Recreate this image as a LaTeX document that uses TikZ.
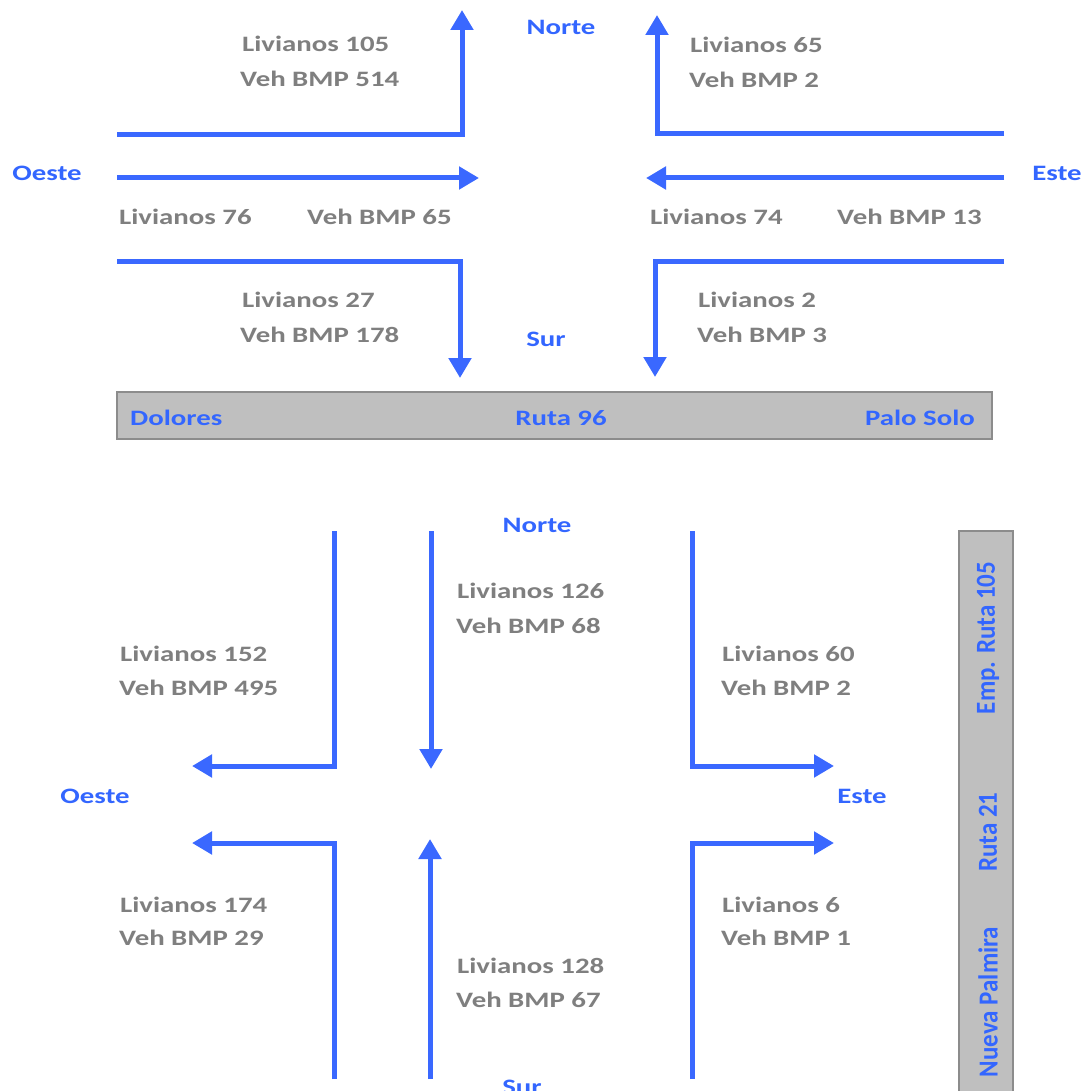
\documentclass[tikz,border=0pt]{standalone}
\usepackage{fontspec}
\usetikzlibrary{arrows.meta}
\newfontfamily\lblfont[FakeStretch=1.31]{Carlito}
\newfontfamily\plainlbl{Carlito}
\definecolor{flowblue}{HTML}{3A68FF}
\definecolor{namblue}{HTML}{3366FF}
\definecolor{cntgrey}{HTML}{7F7F7F}
\definecolor{roadfill}{HTML}{BFBFBF}
\definecolor{roadedge}{HTML}{8C8C8C}
\tikzset{
  flow/.style={draw=flowblue, line width=5pt, line join=miter,
    -{Triangle[length=20pt,width=22pt]}},
  count/.style={font=\lblfont\bfseries\fontsize{22}{26}\selectfont, text=cntgrey,
    anchor=west, inner sep=0pt},
  place/.style={font=\lblfont\bfseries\fontsize{22}{26}\selectfont, text=namblue,
    inner sep=0pt},
  roadbox/.style={draw=roadedge, fill=roadfill, line width=2pt, inner sep=0pt},
  vplace/.style={text=namblue, inner sep=0pt, rotate=90},
}
\newcommand{\vtext}[1]{\scalebox{1}[1.1]{\plainlbl\bfseries\fontsize{25}{29}\selectfont #1}}
\begin{document}
\begin{tikzpicture}[x=1pt,y=-1pt]
\useasboundingbox[fill=white] (0,0) rectangle (1086,1091);

% ---------- upper junction: Ruta 96 ----------
\coordinate (a1) at (117,135); \coordinate (a2) at (462,135); \coordinate (a3) at (462,10);
\coordinate (b1) at (117,178); \coordinate (b2) at (479,178);
\coordinate (c1) at (117,261); \coordinate (c2) at (460,261); \coordinate (c3) at (460,378);
\coordinate (d1) at (1004,134); \coordinate (d2) at (657,134); \coordinate (d3) at (657,15);
\coordinate (e1) at (1004,178); \coordinate (e2) at (646,178);
\coordinate (f1) at (1004,261); \coordinate (f2) at (655,261); \coordinate (f3) at (655,377);

\draw[flow] (a1) -- (a2) -- (a3);
\draw[flow] (b1) -- (b2);
\draw[flow] (c1) -- (c2) -- (c3);
\draw[flow] (d1) -- (d2) -- (d3);
\draw[flow] (e1) -- (e2);
\draw[flow] (f1) -- (f2) -- (f3);

\node[place] (n1) at (561,27) {Norte};
\node[place] (o1) at (47,173) {Oeste};
\node[place] (e1l) at (1057,173) {Este};
\node[place] (s1) at (546,339) {Sur};

\node[count] (t1) at (242,44) {Livianos 105};
\node[count] (t2) at (240,79) {Veh BMP 514};
\node[count] (t3) at (690,45) {Livianos 65};
\node[count] (t4) at (689,80) {Veh BMP 2};
\node[count] (t5) at (119,217) {Livianos 76};
\node[count] (t6) at (307,217) {Veh BMP 65};
\node[count] (t7) at (650,217) {Livianos 74};
\node[count] (t8) at (837,217) {Veh BMP 13};
\node[count] (t9) at (242,300) {Livianos 27};
\node[count] (t10) at (240,335) {Veh BMP 178};
\node[count] (t11) at (698,300) {Livianos 2};
\node[count] (t12) at (697,335) {Veh BMP 3};

\node[roadbox, minimum width=875pt, minimum height=47pt] (r96) at (554.5,415.5) {};
\node[place, anchor=west] (dol) at (130,418) {Dolores};
\node[place] (r96l) at (561,418) {Ruta 96};
\node[place, anchor=east] (pal) at (975,418) {Palo Solo};

% ---------- lower junction: Ruta 21 ----------
\coordinate (g1) at (334,531); \coordinate (g2) at (334,766); \coordinate (g3) at (192,766);
\coordinate (h1) at (431,531); \coordinate (h2) at (431,769);
\coordinate (i1) at (692,531); \coordinate (i2) at (692,766); \coordinate (i3) at (834,766);
\coordinate (j1) at (334,1079); \coordinate (j2) at (334,843); \coordinate (j3) at (192,843);
\coordinate (k1) at (430,1079); \coordinate (k2) at (430,839);
\coordinate (l1) at (692,1079); \coordinate (l2) at (692,843); \coordinate (l3) at (834,843);

\draw[flow] (g1) -- (g2) -- (g3);
\draw[flow] (h1) -- (h2);
\draw[flow] (i1) -- (i2) -- (i3);
\draw[flow] (j1) -- (j2) -- (j3);
\draw[flow] (k1) -- (k2);
\draw[flow] (l1) -- (l2) -- (l3);

\node[place] (n2) at (537,525) {Norte};
\node[place] (o2) at (95,796) {Oeste};
\node[place] (e2l) at (862,796) {Este};
\node[place] (s2) at (522,1087) {Sur};

\node[count] (u1) at (120,654) {Livianos 152};
\node[count] (u2) at (119,688) {Veh BMP 495};
\node[count] (u3) at (457,591) {Livianos 126};
\node[count] (u4) at (456,626) {Veh BMP 68};
\node[count] (u5) at (722,654) {Livianos 60};
\node[count] (u6) at (721,688) {Veh BMP 2};
\node[count] (u7) at (120,905) {Livianos 174};
\node[count] (u8) at (119,938) {Veh BMP 29};
\node[count] (u9) at (722,905) {Livianos 6};
\node[count] (u10) at (721,938) {Veh BMP 1};
\node[count] (u11) at (457,966) {Livianos 128};
\node[count] (u12) at (456,1000) {Veh BMP 67};

\node[roadbox, minimum width=54pt, minimum height=570pt] (r21) at (986,816) {};
\node[vplace] (emp) at (988,638) {\vtext{Emp. Ruta 105}};
\node[vplace] (r21l) at (988,832) {\vtext{Ruta 21}};
\node[vplace] (np) at (988,1002) {\vtext{Nueva Palmira}};
\end{tikzpicture}
\end{document}
